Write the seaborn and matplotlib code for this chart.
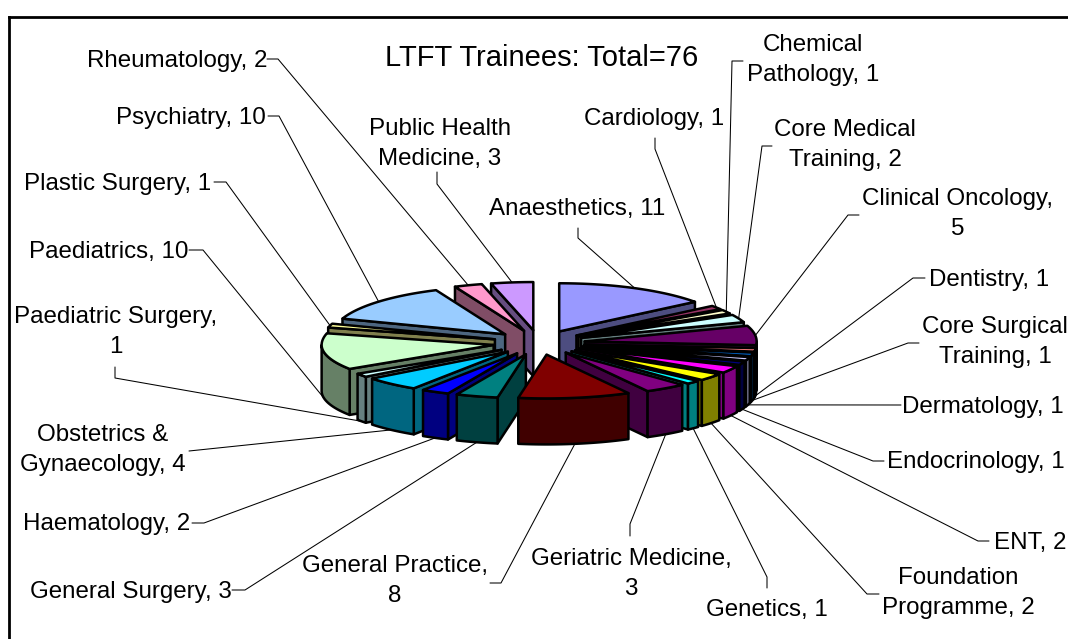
import numpy as np
import pandas as pd
import seaborn as sns
import matplotlib.pyplot as plt

# chart data, clockwise from 12 o'clock
specialties = [
    'Anaesthetics', 'Cardiology', 'Chemical\nPathology', 'Core Medical\nTraining',
    'Clinical Oncology', 'Dentistry', 'Core Surgical\nTraining', 'Dermatology',
    'Endocrinology', 'ENT', 'Foundation\nProgramme', 'Genetics',
    'Geriatric Medicine', 'General Practice', 'General Surgery', 'Haematology',
    'Obstetrics &\nGynaecology', 'Paediatric Surgery', 'Paediatrics', 'Plastic Surgery',
    'Psychiatry', 'Rheumatology', 'Public Health\nMedicine',
]
trainees = [11, 1, 1, 2, 5, 1, 1, 1, 1, 2, 2, 1, 3, 8, 3, 2, 4, 1, 10, 1, 10, 2, 3]
slice_colors = [
    '#9999FF', '#993366', '#FFFFCC', '#CCFFFF', '#660066', '#FF8080', '#0066CC', '#CCCCFF',
    '#000080', '#FF00FF', '#FFFF00', '#00FFFF', '#800080', '#800000', '#008080', '#0000FF',
    '#00CCFF', '#CCFFFF', '#CCFFCC', '#FFFF99', '#99CCFF', '#FF99CC', '#CC99FF',
]
title = 'LTFT Trainees: Total=76'

# layout in pixels: label centre, leader start, leader elbow
label_xy = [
    (577, 209), (654, 119), (813, 60), (845, 145), (958, 214), (989, 280), (995, 342), (983, 407),
    (976, 462), (1030, 543), (958, 593), (767, 610), (631, 574), (395, 581), (131, 592), (107, 524),
    (103, 450), (116, 332), (109, 252), (118, 184), (191, 118), (177, 61), (440, 144),
]
leader_start = [
    (578, 228), (655, 138), (743, 61), (772, 146), (859, 215), (925, 278), (919, 343), (901, 405),
    (884, 461), (989, 541), (879, 594), (767, 588), (630, 536), (490, 583), (232, 590), (192, 523),
    (189, 451), (115, 367), (189, 250), (214, 182), (268, 116), (267, 59), (437, 172),
]
leader_elbow = [
    (578, 238), (655, 149), (732, 61), (762, 146), (848, 215), (913, 278), (908, 343), (901, 405),
    (873, 461), (978, 541), (867, 594), (767, 577), (630, 524), (501, 583), (245, 590), (204, 523),
    (189, 451), (115, 378), (203, 250), (226, 182), (279, 116), (278, 59), (437, 184),
]

CX, CY = 539, 343
RADIUS = 172
EXPLODE = 46
DEPTH = 46
K_BACK, K_FRONT = 0.28, 0.255
EDGE = 1.8


def project(theta, radius, mid, z=0.0):
    # theta clockwise from the top, y grows downwards
    x = CX + EXPLODE * np.sin(mid) + radius * np.sin(theta)
    y = -(EXPLODE * np.cos(mid) + radius * np.cos(theta))
    y = np.where(y > 0, y * K_FRONT, y * K_BACK)
    return x, CY + y + z


def wall(ax, xs, ys, color):
    xs = np.concatenate([xs, xs[::-1]])
    ys = np.concatenate([ys, ys[::-1] + DEPTH])
    ax.fill(xs, ys, facecolor=color, edgecolor='black', linewidth=EDGE, joinstyle='round')


def draw_slice(ax, row):
    a, b, mid = row.start, row.end, row.mid
    dark = tuple(c * 0.5 for c in row.color)
    apex = project(0.0, 0.0, mid)

    if np.sin(a) < 0:
        x, y = project(np.array([a]), RADIUS, mid)
        wall(ax, np.array([apex[0], x[0]]), np.array([float(apex[1]), y[0]]), dark)
    if np.sin(b) > 0:
        x, y = project(np.array([b]), RADIUS, mid)
        wall(ax, np.array([apex[0], x[0]]), np.array([float(apex[1]), y[0]]), dark)

    lo, hi = max(a, np.pi / 2), min(b, 3 * np.pi / 2)
    if hi > lo:
        x, y = project(np.linspace(lo, hi, 40), RADIUS, mid)
        wall(ax, x, y, dark)

    x, y = project(np.linspace(a, b, 40), RADIUS, mid)
    ax.fill(np.r_[apex[0], x], np.r_[float(apex[1]), y], facecolor=row.color,
            edgecolor='black', linewidth=EDGE, joinstyle='round')


sns.set_theme(style='white')
plt.rcParams['font.family'] = ['Liberation Sans', 'DejaVu Sans']

palette = sns.color_palette(slice_colors)
edges = np.cumsum([0] + trainees) / sum(trainees) * 2 * np.pi
df = pd.DataFrame({
    'name': specialties,
    'n': trainees,
    'start': edges[:-1],
    'end': edges[1:],
})
df['mid'] = (df['start'] + df['end']) / 2
df['color'] = list(palette)

fig = plt.figure(figsize=(10.68, 6.39), dpi=100)
ax = fig.add_axes([0, 0, 1, 1])
ax.set_xlim(0, 1068)
ax.set_ylim(639, 0)
ax.axis('off')

ax.plot([9, 9], [639, 17], color='black', lw=2, solid_capstyle='projecting')
ax.plot([9, 1068], [17, 17], color='black', lw=2, solid_capstyle='projecting')

# back to front so nearer slices cover the ones behind
order = (df['mid'] - np.pi).abs().sort_values(ascending=False).index
for i in order:
    draw_slice(ax, df.loc[i])

for i, row in df.iterrows():
    front = np.cos(row.mid) < 0
    x, y = project(row.mid, RADIUS, row.mid, DEPTH if front else 0.0)
    sx, sy = leader_start[i]
    ex, ey = leader_elbow[i]
    ax.plot([sx, ex, x], [sy, ey, float(y)], color='black', lw=0.75, zorder=1)

    # the value goes after a comma on the label's last line
    text = f'{row["name"]}, {row.n}'
    if row['name'] in ('Clinical Oncology', 'Paediatric Surgery', 'General Practice', 'Geriatric Medicine'):
        text = f'{row["name"]},\n{row.n}'
    lx, ly = label_xy[i]
    ax.text(lx, ly, text, ha='center', va='center', fontsize=17.4, color='black',
            linespacing=1.45, multialignment='center')

ax.text(542, 58, title, ha='center', va='center', fontsize=21, color='black')

fig.savefig('out.png', dpi=100, facecolor='white')
